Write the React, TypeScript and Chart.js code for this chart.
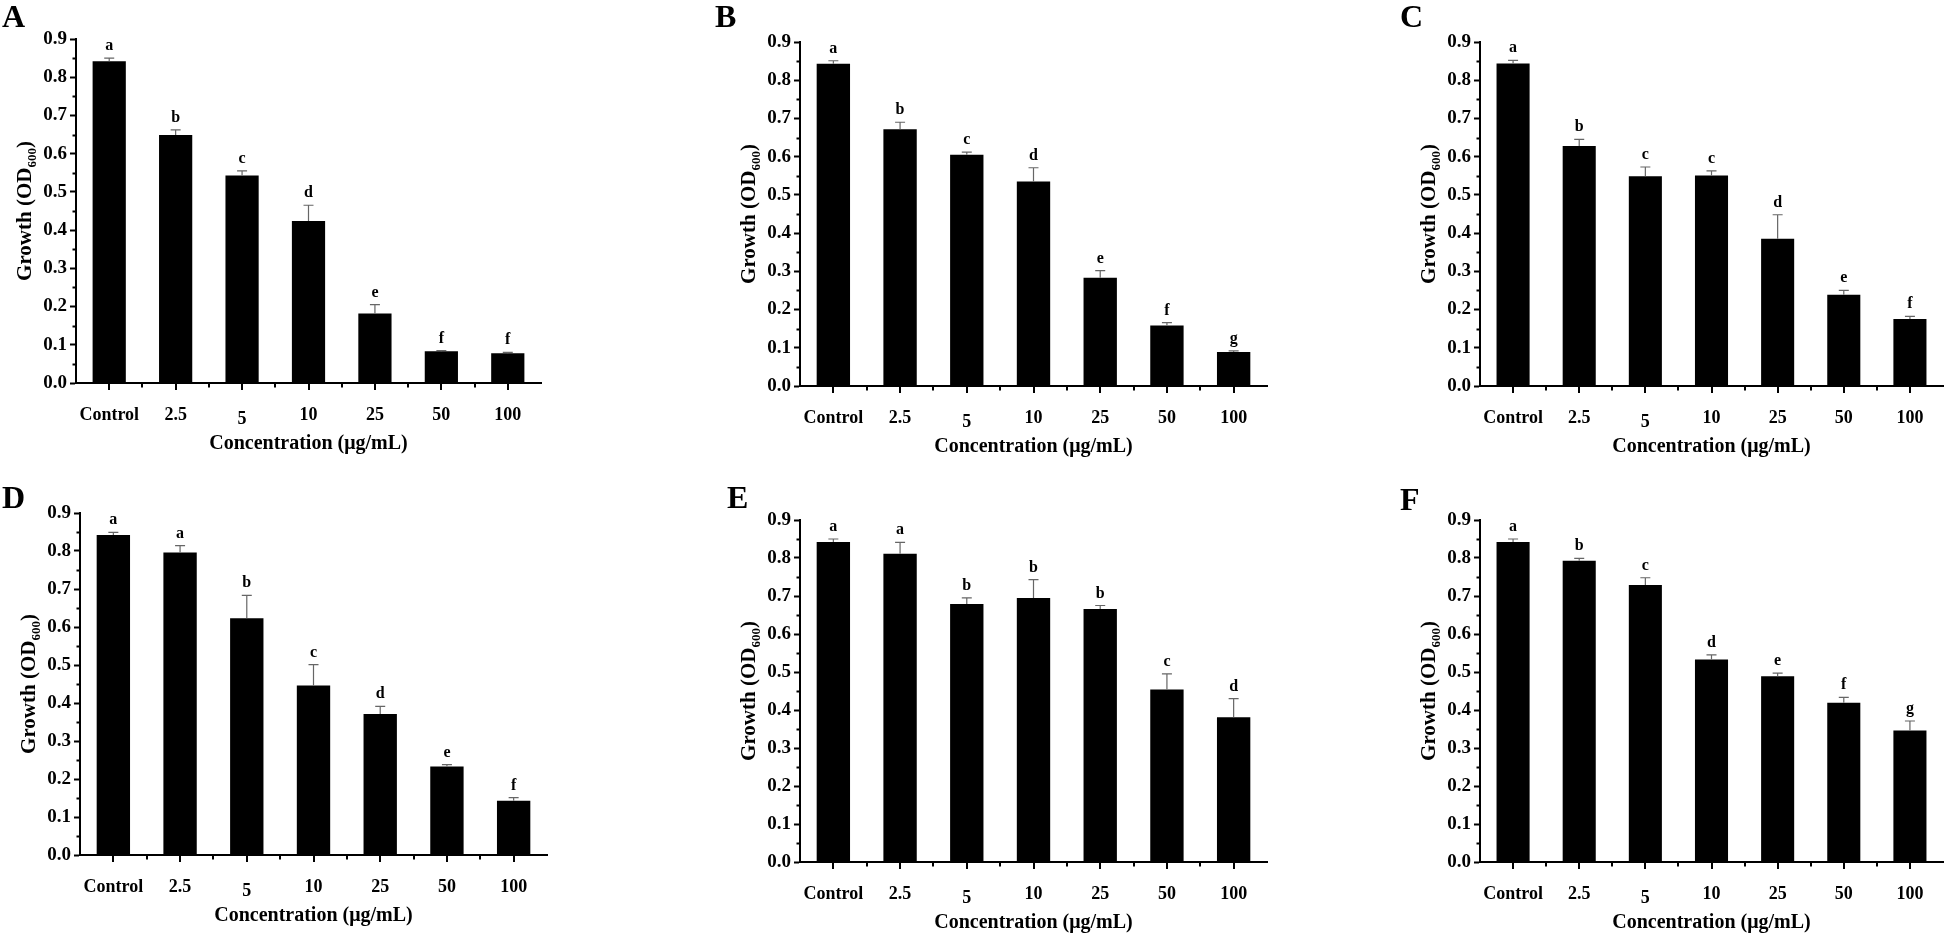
import React, { useEffect, useRef } from "react";
import { Chart, registerables } from "chart.js";

Chart.register(...registerables);

// ---------------- data ----------------
const categories = ["Control", "2.5", "5", "10", "25", "50", "100"];
const yTicks = [0, 0.1, 0.2, 0.3, 0.4, 0.5, 0.6, 0.7, 0.8, 0.9];
const yMinorTicks = [0.05, 0.15, 0.25, 0.35, 0.45, 0.55, 0.65, 0.75, 0.85];
const panelLetters = ["A", "B", "C", "D", "E", "F"];
const xTitle = "Concentration (μg/mL)";

const valuesA = [0.842, 0.649, 0.543, 0.424, 0.182, 0.083, 0.078];
const errorsA = [0.008, 0.013, 0.012, 0.041, 0.023, 0.002, 0.002];
const groupsA = ["a", "b", "c", "d", "e", "f", "f"];

const valuesB = [0.843, 0.672, 0.605, 0.535, 0.283, 0.158, 0.089];
const errorsB = [0.008, 0.018, 0.007, 0.036, 0.019, 0.008, 0.003];
const groupsB = ["a", "b", "c", "d", "e", "f", "g"];

const valuesC = [0.844, 0.628, 0.549, 0.551, 0.385, 0.239, 0.175];
const errorsC = [0.008, 0.017, 0.024, 0.012, 0.063, 0.011, 0.007];
const groupsC = ["a", "b", "c", "c", "d", "e", "f"];

const valuesD = [0.842, 0.796, 0.623, 0.446, 0.371, 0.233, 0.143];
const errorsD = [0.007, 0.018, 0.06, 0.055, 0.02, 0.005, 0.008];
const groupsD = ["a", "a", "b", "c", "d", "e", "f"];

const valuesE = [0.842, 0.811, 0.679, 0.695, 0.666, 0.454, 0.381];
const errorsE = [0.008, 0.03, 0.016, 0.048, 0.009, 0.041, 0.049];
const groupsE = ["a", "a", "b", "b", "b", "c", "d"];

const valuesF = [0.842, 0.793, 0.729, 0.533, 0.489, 0.419, 0.346];
const errorsF = [0.008, 0.006, 0.019, 0.012, 0.008, 0.014, 0.025];
const groupsF = ["a", "b", "c", "d", "e", "f", "g"];

const seriesValues = [valuesA, valuesB, valuesC, valuesD, valuesE, valuesF];
const seriesErrors = [errorsA, errorsB, errorsC, errorsD, errorsE, errorsF];
const seriesGroups = [groupsA, groupsB, groupsC, groupsD, groupsE, groupsF];

// ---------------- layout / style ----------------
const FONT = "'Times New Roman', 'Liberation Serif', serif";
const PAD_L = 80;
const PAD_T = 24;
const PAD_R = 6;
const PAD_B = 80;
const MAJOR = 6;
const MINOR = 3.5;
const XLABEL_OFFSET = 32;
const XTITLE_OFFSET = 61;

// plot-area rectangles (page pixels) and panel letter positions
const panelLayout = [
  { L: 76, T: 39, R: 541, B: 383, lx: 2, ly: 0 },
  { L: 800, T: 42, R: 1267, B: 386, lx: 715, ly: 0 },
  { L: 1480, T: 42, R: 1943, B: 386, lx: 1400, ly: 0 },
  { L: 80, T: 513, R: 547, B: 855, lx: 2, ly: 481 },
  { L: 800, T: 520, R: 1267, B: 862, lx: 727, ly: 481 },
  { L: 1480, T: 520, R: 1943, B: 862, lx: 1400, ly: 483 },
];
const xLabelDrop = [0, 0, 4, 0, 0, 0, 0];

const decorPlugin = {
  id: "decor",
  afterDatasetsDraw(chart: any, _a: any, opts: any) {
    const { ctx, scales } = chart;
    const ys = scales.y;
    const meta = chart.getDatasetMeta(0);
    ctx.save();
    meta.data.forEach((bar: any, i: number) => {
      const v = opts.values[i];
      const e = opts.errors[i];
      const yBar = ys.getPixelForValue(v);
      const yTop = ys.getPixelForValue(v + e);
      const x = bar.x;
      ctx.strokeStyle = "#666";
      ctx.lineWidth = 1.2;
      ctx.beginPath();
      ctx.moveTo(x, yBar);
      ctx.lineTo(x, yTop);
      ctx.moveTo(x - 5, yTop);
      ctx.lineTo(x + 5, yTop);
      ctx.stroke();
      ctx.fillStyle = "#000";
      ctx.font = `bold 16px ${FONT}`;
      ctx.textAlign = "center";
      ctx.textBaseline = "alphabetic";
      ctx.fillText(opts.groups[i], x, yTop - 8);
    });
    ctx.restore();
  },
  afterDraw(chart: any) {
    const { ctx, chartArea, scales } = chart;
    const xs = scales.x;
    const ys = scales.y;
    ctx.save();
    ctx.strokeStyle = "#000";
    ctx.lineWidth = 2;
    yMinorTicks.forEach((v) => {
      const py = Math.round(ys.getPixelForValue(v)) + 0.5;
      ctx.beginPath();
      ctx.moveTo(chartArea.left, py);
      ctx.lineTo(chartArea.left - MINOR, py);
      ctx.stroke();
    });
    categories.forEach((_c, i) => {
      const px = Math.round(xs.getPixelForValue(i));
      ctx.beginPath();
      ctx.moveTo(px, chartArea.bottom);
      ctx.lineTo(px, chartArea.bottom + MAJOR + 1);
      ctx.stroke();
      if (i < categories.length - 1) {
        const bx = Math.round(xs.getPixelForValue(i + 0.5));
        ctx.beginPath();
        ctx.moveTo(bx, chartArea.bottom);
        ctx.lineTo(bx, chartArea.bottom + MINOR + 1);
        ctx.stroke();
      }
    });
    ctx.fillStyle = "#000";
    ctx.font = `bold 18px ${FONT}`;
    ctx.textAlign = "center";
    ctx.textBaseline = "middle";
    categories.forEach((c, i) => {
      ctx.fillText(c, xs.getPixelForValue(i), chartArea.bottom + XLABEL_OFFSET + xLabelDrop[i]);
    });
    ctx.font = `bold 20px ${FONT}`;
    ctx.fillText(xTitle, (chartArea.left + chartArea.right) / 2, chartArea.bottom + XTITLE_OFFSET);
    const main = "Growth (OD";
    const sub = "600";
    const close = ")";
    ctx.font = `bold 21px ${FONT}`;
    const w1 = ctx.measureText(main).width;
    const w3 = ctx.measureText(close).width;
    ctx.font = `bold 13px ${FONT}`;
    const w2 = ctx.measureText(sub).width;
    const total = w1 + w2 + w3;
    ctx.translate(chartArea.left - 45, (chartArea.top + chartArea.bottom) / 2);
    ctx.rotate(-Math.PI / 2);
    ctx.textAlign = "left";
    ctx.textBaseline = "alphabetic";
    let x0 = -total / 2;
    ctx.font = `bold 21px ${FONT}`;
    ctx.fillText(main, x0, 0);
    x0 += w1;
    ctx.font = `bold 13px ${FONT}`;
    ctx.fillText(sub, x0, 5);
    x0 += w2;
    ctx.font = `bold 21px ${FONT}`;
    ctx.fillText(close, x0, 0);
    ctx.restore();
  },
};

function Panel({ idx }: { idx: number }) {
  const ref = useRef<HTMLCanvasElement | null>(null);
  const lay = panelLayout[idx];
  const width = lay.R - lay.L + PAD_L + PAD_R;
  const height = lay.B - lay.T + PAD_T + PAD_B;

  useEffect(() => {
    if (!ref.current) return;
    const chart = new Chart(ref.current, {
      type: "bar",
      data: {
        labels: categories,
        datasets: [
          {
            data: seriesValues[idx],
            backgroundColor: "#000",
            borderWidth: 0,
            barPercentage: 0.5,
            categoryPercentage: 1.0,
          },
        ],
      },
      options: {
        animation: false,
        responsive: false,
        maintainAspectRatio: false,
        devicePixelRatio: 1,
        layout: { padding: { top: PAD_T, right: PAD_R, left: 0, bottom: 0 } },
        plugins: {
          legend: { display: false },
          tooltip: { enabled: false },
          title: { display: false },
          decor: {
            values: seriesValues[idx],
            errors: seriesErrors[idx],
            groups: seriesGroups[idx],
          },
        } as any,
        scales: {
          x: {
            type: "category",
            offset: true,
            grid: { display: false },
            border: { display: true, color: "#000", width: 2 },
            ticks: { display: false },
            afterFit: (s: any) => {
              s.height = PAD_B;
            },
          },
          y: {
            min: 0,
            max: 0.9,
            afterBuildTicks: (s: any) => {
              s.ticks = yTicks.map((v) => ({ value: v }));
            },
            grid: {
              display: true,
              drawOnChartArea: false,
              drawTicks: true,
              tickLength: MAJOR,
              tickWidth: 2,
              tickColor: "#000",
            },
            border: { display: true, color: "#000", width: 2 },
            ticks: {
              color: "#000",
              padding: 3,
              font: { family: FONT, size: 19, weight: "bold" },
              callback: (v: any) => Number(v).toFixed(1),
            },
            afterFit: (s: any) => {
              s.width = PAD_L;
            },
          },
        },
      } as any,
      plugins: [decorPlugin],
    });
    return () => chart.destroy();
  }, [idx]);

  return (
    <>
      <canvas
        ref={ref}
        width={width}
        height={height}
        style={{
          position: "absolute",
          left: lay.L - PAD_L,
          top: lay.T - PAD_T,
          width,
          height,
        }}
      />
      <div
        style={{
          position: "absolute",
          left: lay.lx,
          top: lay.ly,
          font: `bold 32px ${FONT}`,
          lineHeight: "32px",
          color: "#000",
        }}
      >
        {panelLetters[idx]}
      </div>
    </>
  );
}

export default function App() {
  return (
    <div
      style={{
        position: "absolute",
        left: 0,
        top: 0,
        width: 1946,
        height: 934,
        overflow: "hidden",
        background: "#fff",
      }}
    >
      {panelLetters.map((_l, i) => (
        <Panel key={i} idx={i} />
      ))}
    </div>
  );
}
